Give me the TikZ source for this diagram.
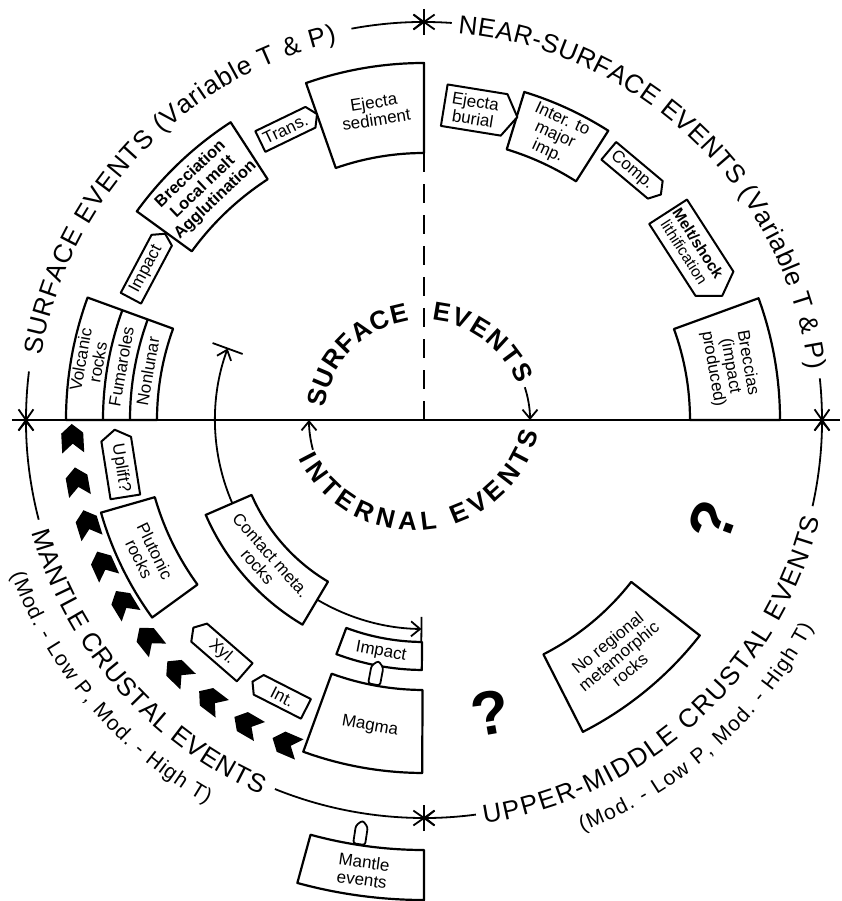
\documentclass[tikz,border=0pt]{standalone}
\usepackage{fontspec}
\setmainfont{Liberation Sans}
\usetikzlibrary{shapes.symbols,decorations.text,arrows.meta}
\newcommand\outerfont{\fontsize{26}{28}\selectfont}
\newcommand\parfont{\fontsize{21}{23}\selectfont}
\newcommand\innerfont{\fontsize{26}{28}\selectfont\bfseries}
\newcommand\boxfont{\fontsize{17}{17.5}\selectfont}
\newcommand\pentfont{\fontsize{17}{17.5}\selectfont}
\newcommand\ringsec[5][]{%
  \draw[secbox,#1] (#2:#4) arc[start angle=#2,end angle=#3,radius=#4] -- (#3:#5) arc[start angle=#3,end angle=#2,radius=#5] -- cycle;}
\tikzset{
  secbox/.style={draw, line width=2.2pt, fill=white, line join=round},
  secline/.style={line width=2.2pt},
  boxtext/.style={font=\boxfont, align=center, inner sep=0pt},
  pent/.style={shape=signal, draw, fill=white, line width=2pt, font=\pentfont, align=center, inner sep=1pt, signal pointer angle=115, line join=round},
  chev/.style={shape=signal, fill=black, signal to=east, signal from=west, minimum width=29pt, minimum height=22pt, inner sep=0pt, signal pointer angle=100},
  bullet/.style={shape=signal, signal to=north, draw, fill=white, line width=1.8pt, minimum width=12pt, minimum height=18pt, inner sep=0pt, anchor=south, rounded corners=2.5pt},
  arcline/.style={line width=1.8pt},
  arr/.style={line width=1.8pt, -{Straight Barb[length=9pt,width=15pt]}},
  starline/.style={line width=1.8pt},
  qm/.style={font=\fontsize{62}{62}\selectfont\bfseries, inner sep=0pt},
  curvtext/.style={decorate, decoration={text along path, text align={fit to path}, text={#1}}},
}
\begin{document}
\begin{tikzpicture}[x=1pt,y=1pt]
\useasboundingbox (-424,-481) rectangle (417,420);
% axes
\coordinate (hl) at (-412,0); \coordinate (hr) at (416,0); \coordinate (O) at (0,0);
\coordinate (dtop) at (90:267);
\draw[line width=1.8pt] (hl) -- (hr);
\draw[line width=1.8pt, dash pattern=on 19pt off 12pt] (O) -- (dtop);
% stars
\coordinate (sR) at (0:398); \coordinate (sT) at (90:398); \coordinate (sL) at (180:398); \coordinate (sB) at (270:398);
\foreach \n/\a in {sR/0,sT/90,sL/180,sB/270}{\foreach \b in {0,55,125}{\draw[starline] (\n) ++({\a+\b}:13) -- ++({\a+\b+180}:26);}}
% outer arcs
\draw[arcline] (sL) arc[start angle=180,end angle=173,radius=398];
\draw[arr] (100.5:398) arc[start angle=100.5,end angle=90,radius=398];
\draw[arcline] (sT) arc[start angle=90,end angle=86,radius=398];
\draw[arcline] (6:398) arc[start angle=6,end angle=0,radius=398];
\draw[arr] (194.5:398) arc[start angle=194.5,end angle=180,radius=398];
\draw[arcline] (248:398) arc[start angle=248,end angle=270,radius=398];
\draw[arr] (277.5:398) arc[start angle=277.5,end angle=270,radius=398];
\draw[arr] (347.5:398) arc[start angle=347.5,end angle=360,radius=398];
% outer texts
\path[curvtext={|\outerfont|SURFACE EVENTS (Variable T {\&} P)}] (170.5:388) arc[start angle=170.5,end angle=103,radius=388];
\path[curvtext={|\outerfont|NEAR-SURFACE EVENTS (Variable T {\&} P)}] (85:388) arc[start angle=85,end angle=7.5,radius=388];
\path[curvtext={|\outerfont|MANTLE CRUSTAL EVENTS}] (196:408) arc[start angle=196,end angle=246.5,radius=408];
\path[curvtext={|\parfont|(Mod. - Low P, Mod. - High T)}] (200.5:441) arc[start angle=200.5,end angle=240.5,radius=441];
\path[curvtext={|\outerfont|UPPER-MIDDLE CRUSTAL EVENTS}] (278.5:408) arc[start angle=278.5,end angle=346,radius=408];
\path[curvtext={|\parfont|(Mod. - Low P, Mod. - High T)}] (291:441) arc[start angle=291,end angle=332,radius=441];
% inner texts
\path[curvtext={|\innerfont|SURFACE}] (173:100) arc[start angle=173,end angle=98.5,radius=100];
\path[curvtext={|\innerfont|EVENTS}] (85.5:100) arc[start angle=85.5,end angle=21,radius=100];
\path[curvtext={|\innerfont|INTERNAL EVENTS}] ([shift={(-10,18)}]206:128.6) arc[start angle=206,end angle=346,radius=128.6];
\draw[arr] (18:106) arc[start angle=18,end angle=0,radius=106];
\draw[arr] (195:115) arc[start angle=195,end angle=180,radius=115];
% contact arc
\coordinate (ctop) at (160:209); \coordinate (cbot) at (269.3:209);
\coordinate (cin) at (203.5:209); \coordinate (cout) at (239.3:209);
\draw[arr] (cin) arc[start angle=203.5,end angle=160,radius=209];
\draw[arr] (cout) arc[start angle=239.3,end angle=269.3,radius=209];
\draw[arcline] (160:193) -- (160:225);
\draw[arcline] (269.3:197) -- (269.3:221);
% chevrons
\foreach \k in {0,...,9}{\pgfmathsetmacro\ang{183+7.1*\k}
  \node[chev, rotate=\ang-90] (ch\k) at (\ang:352) {};}
% sectors
\ringsec{160}{180}{267}{358}
\draw[secline] (160:294) arc[start angle=160,end angle=180,radius=294];
\draw[secline] (160:321) arc[start angle=160,end angle=180,radius=321];
\node[boxtext, rotate=80] (volc) at (170:340) {Volcanic\\rocks};
\node[boxtext, rotate=80] (fum) at (170:307.5) {Fumaroles};
\node[boxtext, rotate=80] (nonl) at (170:280.5) {Nonlunar};
\ringsec{123}{144}{287}{355}
\node[boxtext, font=\fontsize{16.5}{18}\selectfont\bfseries, rotate=43.5] (brec) at (133.5:321) {Brecciation\\Local melt\\Agglutination};
\ringsec{90}{109.3}{267}{357}
\node[boxtext, rotate=9] (ejsed) at (99:313) {Ejecta\\sediment};
\ringsec{57.5}{73}{283}{343}
\node[boxtext, rotate=-24.7] (inter) at (65.3:313) {Inter. to\\major\\imp.};
\ringsec{0}{20}{266}{356}
\node[boxtext, rotate=-80] (brecc) at (10:311) {Breccias\\(impact\\produced)};
\ringsec{196}{216}{280}{336}
\node[boxtext, rotate=-64] (plut) at (206:308) {Plutonic\\rocks};
\ringsec{203.5}{239.3}{188}{238}
\node[boxtext, rotate=-48.6] (contact) at (221.4:213) {Contact meta.\\rocks};
\ringsec{249.5}{269.5}{222}{250}
\node[boxtext, rotate=-10.5] (impl) at (259.5:236) {Impact};
\ringsec{250}{269.7}{270}{353}
\node[boxtext, rotate=-10] (magma) at (260:311) {Magma};
\ringsec{254.7}{270}{430}{480}
\node[boxtext, rotate=-7.7] (mantle) at (262.3:455) {Mantle\\events};
\ringsec{-63}{-38}{263}{350}
\node[boxtext, rotate=39.5] (noreg) at (-50.5:306) {No regional\\metamorphic\\rocks};
% bullets
\node[bullet, rotate=349.3] (b1) at (259.3:270) {};
\node[bullet, rotate=351.3] (b2) at (261.3:430) {};
% pentagons
\node[pent, signal to=east, rotate=62, minimum width=73pt, minimum height=23pt] (imp1) at (151.5:316) {Impact};
\node[pent, signal to=east, rotate=25.8, minimum width=63pt, minimum height=23pt] (trans) at (115.5:322) {Trans.};
\node[pent, signal to=east, rotate=-9.2, minimum width=74pt, minimum height=42pt] (ejbur) at (80.8:314) {Ejecta\\burial};
\node[pent, signal to=east, rotate=-40, minimum width=68pt, minimum height=23pt] (comp) at (50.2:325) {Comp.};
\node[pent, signal to=east, rotate=-57.2, minimum width=100pt, minimum height=45pt, font=\fontsize{15.5}{16.5}\selectfont] (melt) at (32.8:318) {\textbf{Melt/shock}\\lithification};
\node[pent, signal to=west, rotate=-81, minimum width=68pt, minimum height=30pt] (uplift) at (189:307) {Uplift?};
\node[pent, signal to=west, rotate=-41, minimum width=68pt, minimum height=24pt] (xyl) at (229:308) {Xyl.};
\node[pent, signal to=west, rotate=-27, minimum width=60pt, minimum height=22pt] (int) at (242.9:311) {Int.};
% question marks
\node[qm, rotate=70] (q1) at (-19.4:306) {?};
\node[qm, rotate=10] (q2) at (-77.3:300) {?};
\end{tikzpicture}
\end{document}
